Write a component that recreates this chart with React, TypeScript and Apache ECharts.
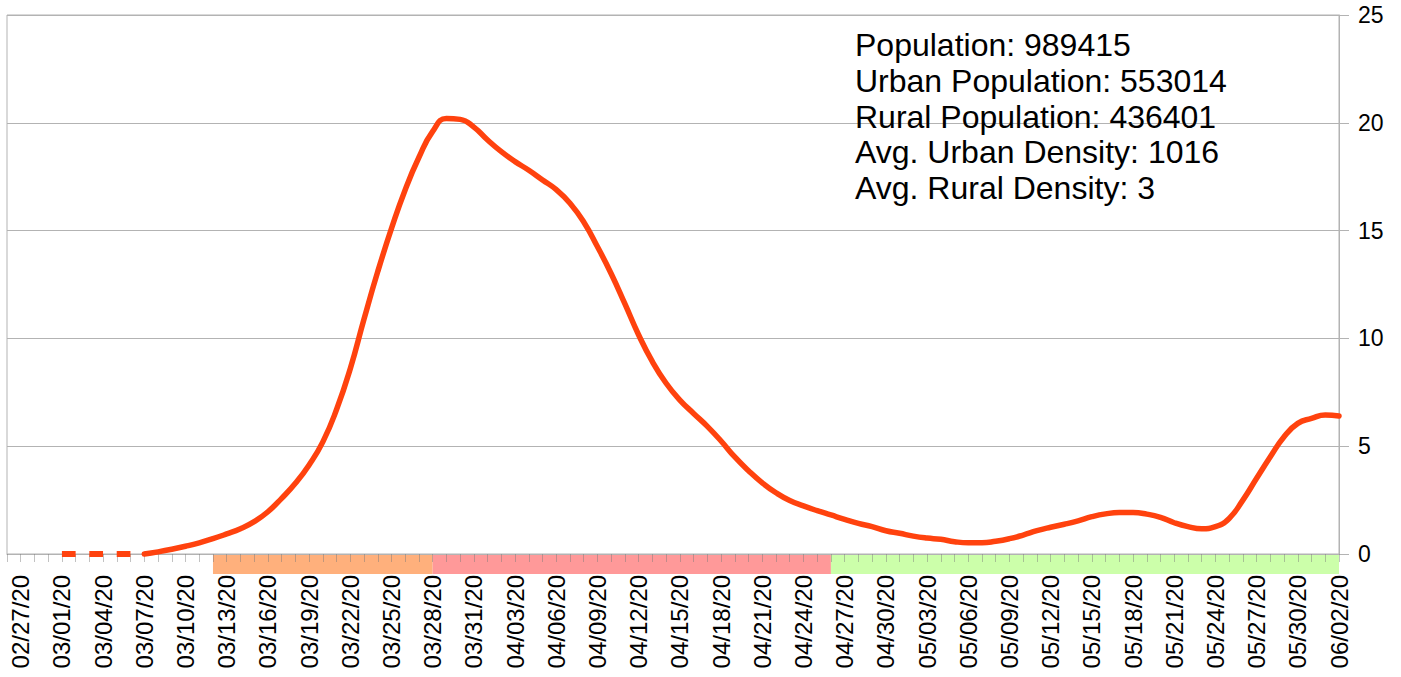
import React, { useEffect, useRef } from "react";
import * as echarts from "echarts";

// Category dates 02/26/20 .. 06/02/20
const dates: string[] = (() => {
  const out: string[] = [];
  const d = new Date(Date.UTC(2020, 1, 26));
  const end = Date.UTC(2020, 5, 2);
  while (d.getTime() <= end) {
    const mm = String(d.getUTCMonth() + 1).padStart(2, "0");
    const dd = String(d.getUTCDate()).padStart(2, "0");
    out.push(`${mm}/${dd}/20`);
    d.setUTCDate(d.getUTCDate() + 1);
  }
  return out;
})();

// Solid curve values from 03/07/20 (index 10) to 06/02/20
const solidValues: number[] = [
  0, 0.1, 0.22, 0.36, 0.52, 0.71, 0.93, 1.17, 1.5, 1.96,
  2.58, 3.28, 4.13, 5.2, 6.7, 8.6, 10.9, 13.1, 15.1, 16.9,
  18.4, 19.6, 20.2, 20.16, 19.8, 19.2, 18.66, 18.2, 17.8, 17.35,
  16.9, 16.27, 15.4, 14.25, 13.0, 11.6, 10.16, 8.92, 7.92, 7.14,
  6.52, 5.92, 5.24, 4.5, 3.86, 3.3, 2.84, 2.48, 2.23, 2.01,
  1.81, 1.61, 1.42, 1.27, 1.08, 0.96, 0.83, 0.74, 0.68, 0.57,
  0.52, 0.52, 0.59, 0.71, 0.88, 1.08, 1.24, 1.38, 1.54, 1.73,
  1.86, 1.92, 1.92, 1.85, 1.7, 1.45, 1.27, 1.17, 1.27, 1.65,
  2.5, 3.51, 4.51, 5.44, 6.06, 6.29, 6.45, 6.4,
];
const solidStart = 10;

// Dashed zero segment 03/01/20 .. 03/07/20
const dashedValues: number[] = [0, 0, 0, 0, 0, 0, 0];
const dashedStart = 4;

const yTicks = [0, 5, 10, 15, 20, 25];

const infoLines = [
  "Population: 989415",
  "Urban Population: 553014",
  "Rural Population: 436401",
  "Avg. Urban Density: 1016",
  "Avg. Rural Density: 3",
];

const bands = [
  { from: "03/12/20", to: "03/28/20", color: "#ffb07c" },
  { from: "03/28/20", to: "04/26/20", color: "#ff9999" },
  { from: "04/26/20", to: "06/02/20", color: "#ccffaa" },
];

const FONT = "'Liberation Sans', Arial, sans-serif";
const GRID_COLOR = "#b3b3b3";
const LINE_COLOR = "#ff420e";

export default function App() {
  const ref = useRef<HTMLDivElement>(null);
  useEffect(() => {
    if (!ref.current) return;
    const chart = echarts.init(ref.current, undefined, { renderer: "svg" });

    const solid = dates.map((_, i) =>
      i >= solidStart && i - solidStart < solidValues.length ? solidValues[i - solidStart] : null
    );
    const dashed = dates.map((_, i) =>
      i >= dashedStart && i - dashedStart < dashedValues.length ? dashedValues[i - dashedStart] : null
    );

    chart.setOption({
      animation: false,
      backgroundColor: "#ffffff",
      textStyle: { fontFamily: FONT },
      title: {
        text: infoLines.join("\n"),
        left: 855,
        top: 27,
        padding: 0,
        textStyle: {
          fontFamily: FONT,
          fontSize: 32,
          fontWeight: "normal",
          color: "#000000",
          lineHeight: 35.8,
        },
      },
      grid: [
        {
          left: 7,
          right: 62,
          top: 15,
          bottom: 123,
          show: true,
          borderColor: GRID_COLOR,
          borderWidth: 1,
          containLabel: false,
        },
        { left: 7, right: 62, top: 554, height: 20, containLabel: false },
      ],
      xAxis: [
        {
          type: "category",
          gridIndex: 0,
          data: dates,
          boundaryGap: false,
          z: 1,
          axisLine: { show: true, lineStyle: { color: GRID_COLOR, width: 1 } },
          axisTick: {
            show: true,
            interval: 0,
            length: 8,
            lineStyle: { color: "rgba(120,120,120,0.45)", width: 1 },
          },
          axisLabel: {
            interval: (i: number) => i % 3 === 1,
            rotate: 90,
            margin: 21,
            fontSize: 24,
            color: "#000000",
            fontFamily: FONT,
          },
          splitLine: { show: false },
        },
        {
          type: "category",
          gridIndex: 1,
          data: dates,
          boundaryGap: false,
          show: false,
        },
      ],
      yAxis: [
        {
          type: "value",
          gridIndex: 0,
          position: "right",
          min: 0,
          max: 25,
          interval: 5,
          axisLine: { show: true, lineStyle: { color: GRID_COLOR } },
          axisTick: { show: true, length: 10, lineStyle: { color: GRID_COLOR } },
          axisLabel: {
            margin: 19,
            fontSize: 23,
            color: "#000000",
            fontFamily: FONT,
            formatter: (v: number) => (yTicks.includes(v) ? String(v) : ""),
          },
          splitLine: { show: true, lineStyle: { color: GRID_COLOR, width: 1 } },
        },
        { type: "value", gridIndex: 1, min: 0, max: 1, show: false },
      ],
      series: [
        {
          type: "line",
          xAxisIndex: 1,
          yAxisIndex: 1,
          data: [],
          silent: true,
          z: 0,
          zlevel: 0,
          markArea: {
            silent: true,
            z: 0,
            data: bands.map((b) => [
              { xAxis: b.from, itemStyle: { color: b.color, opacity: 1 } },
              { xAxis: b.to },
            ]),
          },
        },
        {
          type: "line",
          data: dashed,
          showSymbol: false,
          symbol: "none",
          clip: false,
          z: 20,
          lineStyle: { color: LINE_COLOR, width: 6, type: [13.7, 13.7], cap: "butt" },
        },
        {
          type: "line",
          data: solid,
          showSymbol: false,
          symbol: "none",
          smooth: 0.5,
          clip: false,
          z: 21,
          lineStyle: { color: LINE_COLOR, width: 5.5, cap: "round", join: "round" },
        },
      ],
    });
    return () => chart.dispose();
  }, []);
  return (
    <div
      ref={ref}
      style={{ position: "fixed", left: 0, top: 0, width: 1401, height: 677, background: "#fff" }}
    />
  );
}
